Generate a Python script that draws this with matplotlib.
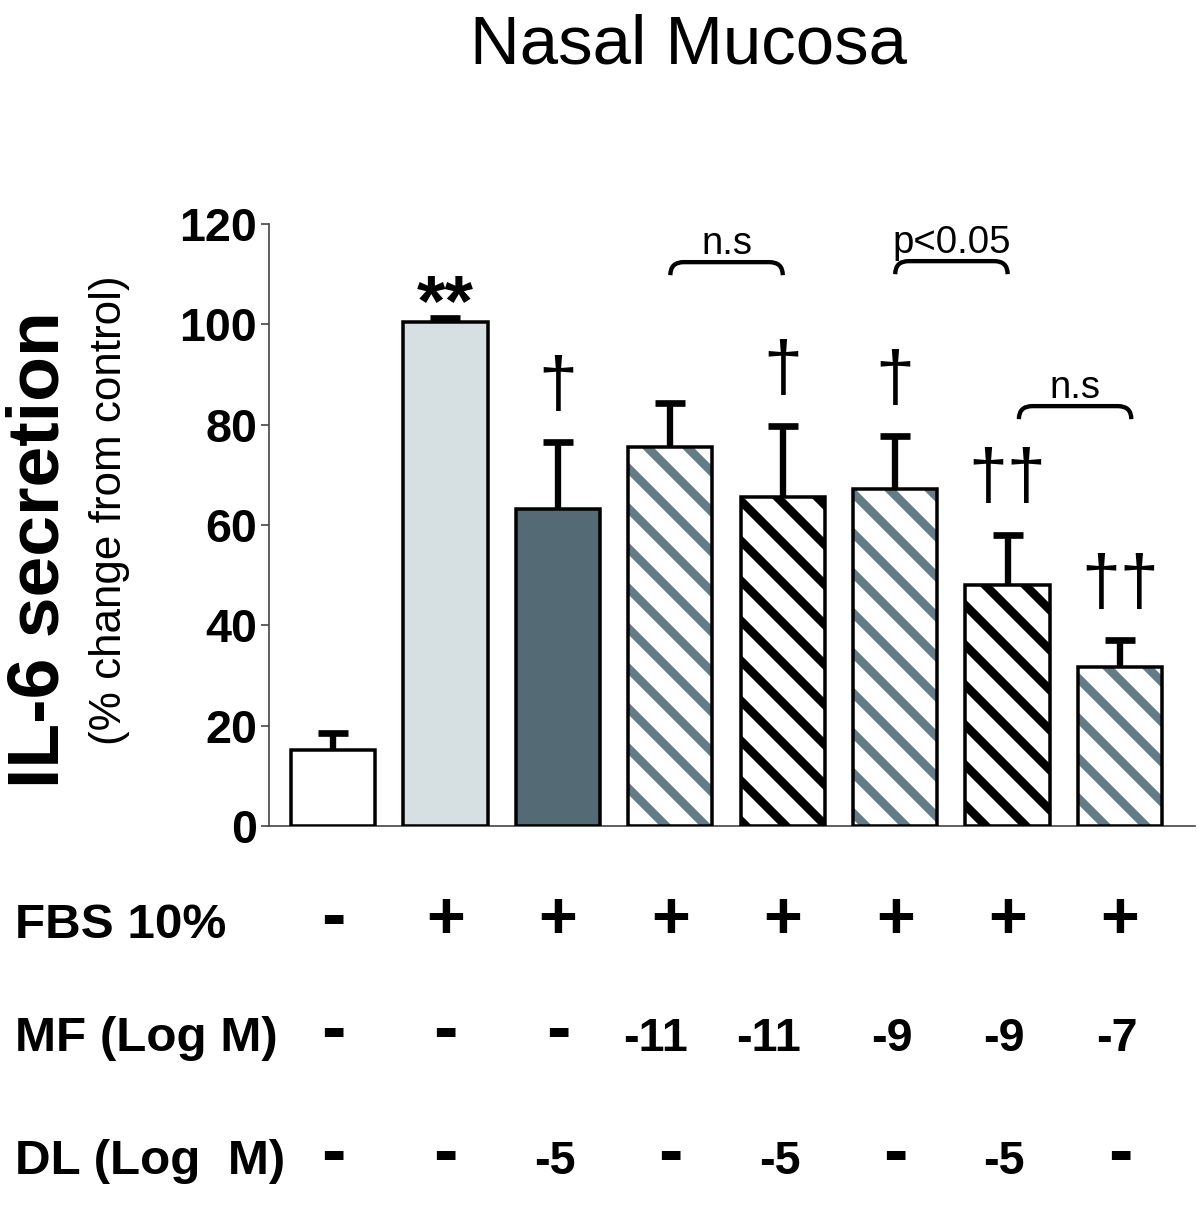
import numpy as np
import matplotlib
matplotlib.use("Agg")
import matplotlib.pyplot as plt
from matplotlib import font_manager
from matplotlib.path import Path
from matplotlib.patches import PathPatch
from matplotlib.transforms import blended_transform_factory

# data
groups = np.arange(8)
means = [15.2, 100.4, 63.1, 75.6, 65.5, 67.1, 48.1, 31.7]
errs = [3.4, 0.8, 13.5, 8.8, 14.3, 10.7, 10.0, 5.4]
marks = ['', '**', '\u2020', '', '\u2020', '\u2020', '\u2020\u2020', '\u2020\u2020']
fbs = ['-', '+', '+', '+', '+', '+', '+', '+']
mf = ['-', '-', '-', '-11', '-11', '-9', '-9', '-7']
dl = ['-', '-', '-5', '-', '-5', '-', '-5', '-']
row_names = ['FBS 10%', 'MF (Log M)', 'DL (Log  M)']
brackets = [(3.0, 4.0, 112.4, 'n.s'), (5.0, 6.0, 112.6, 'p<0.05'), (6.1, 7.1, 83.7, 'n.s')]

# styles
fills = ['white', '#d6e0e2', '#546a74', 'white', 'white', 'white', 'white', 'white']
stripe = [None, None, None, '#647c86', 'black', '#647c86', 'black', '#647c86']

plt.rcParams['font.family'] = ['Liberation Sans', 'DejaVu Sans']
plt.rcParams['hatch.linewidth'] = 2.6

try:
    font_manager.findfont('Liberation Sans Narrow', fallback_to_default=False)
    narrow, num_size = ['Liberation Sans Narrow', 'Liberation Sans'], 17
except ValueError:
    narrow, num_size = ['Liberation Sans', 'DejaVu Sans'], 14

fig = plt.figure(figsize=(5, 1205 / 240), dpi=240)
ax = fig.add_axes([0.2242, 0.3145, 0.7717, 0.4996])

w = 0.75
bars = ax.bar(groups, means, w, color=fills, linewidth=0, zorder=2)
for b, s in zip(bars, stripe):
    if s is not None:
        b.set_hatch('\\\\')
        b.set_edgecolor(s)
ax.bar(groups, means, w, fill=False, edgecolor='black', linewidth=1.05, zorder=3)
eb = ax.errorbar(groups, means, yerr=[np.zeros(8), errs], fmt='none', ecolor='black',
                 elinewidth=1.9, capsize=4.4, capthick=2.0, zorder=4)
eb[1][0].set_visible(False)  # no cap at the bar top

# significance marks
for i, m in enumerate(marks):
    top = means[i] + errs[i]
    if m == '**':
        ax.text(i, top - 1.3, m, ha='center', va='baseline', fontsize=22, fontweight='bold')
    elif m:
        ax.text(i, top + 10.8, m, ha='center', va='center', fontsize=21)

# brackets
for x1, x2, yb, lab in brackets:
    r, d = 0.12, 2.6
    verts = [(x1, yb - d), (x1, yb), (x1 + r, yb), (x2 - r, yb), (x2, yb), (x2, yb - d)]
    codes = [Path.MOVETO, Path.CURVE3, Path.CURVE3, Path.LINETO, Path.CURVE3, Path.CURVE3]
    ax.add_patch(PathPatch(Path(verts, codes), fill=False, lw=1.3, color='black', zorder=4))
    ax.text((x1 + x2) / 2, yb + 1.6, lab, ha='center', va='baseline', fontsize=11.5)

ax.set_xlim(-0.569, 7.667)
ax.set_ylim(0, 120)
ax.set_yticks(np.arange(0, 121, 20))
ax.set_xticks([])
ax.tick_params(axis='y', direction='out', length=2.4, width=0.5, pad=1.2,
               labelsize=14, color='#444444')
for t in ax.get_yticklabels():
    t.set_fontweight('bold')
for s in ['top', 'right']:
    ax.spines[s].set_visible(False)
for s in ['left', 'bottom']:
    ax.spines[s].set_linewidth(0.5)
    ax.spines[s].set_color('#444444')

# axis titles
fig.text(688 / 1200, 1 - 63 / 1205, 'Nasal Mucosa', ha='center', va='baseline', fontsize=20.7)
fig.text(40 / 1200, 1 - 550 / 1205, 'IL-6 secretion', rotation=90, ha='center', va='center',
         fontsize=22, fontweight='bold')
fig.text(110 / 1200, 1 - 510 / 1205, '(% change from control)', rotation=90, ha='center',
         va='center', fontsize=13.2)

# treatment table under the bars
trans = blended_transform_factory(ax.transData, fig.transFigure)
row_y = [1 - 938 / 1205, 1 - 1051 / 1205, 1 - 1174 / 1205]
for name, vals, yy in zip(row_names, [fbs, mf, dl], row_y):
    fig.text(15 / 1200, yy, name, ha='left', va='baseline', fontsize=14.8, fontweight='bold')
    for i, v in enumerate(vals):
        if v == '+':
            ax.text(i, yy, v, transform=trans, ha='center', va='baseline',
                    fontsize=20, fontweight='bold')
        elif v == '-':
            ax.text(i, yy, v, transform=trans, ha='center', va='baseline',
                    fontsize=22, fontweight='bold')
        else:
            shift = -0.13 if len(v) > 2 else -0.03
            ax.text(i + shift, yy, v, transform=trans, ha='center', va='baseline',
                    fontsize=num_size, fontweight='bold', family=narrow)

fig.savefig('out.png', dpi=240)
